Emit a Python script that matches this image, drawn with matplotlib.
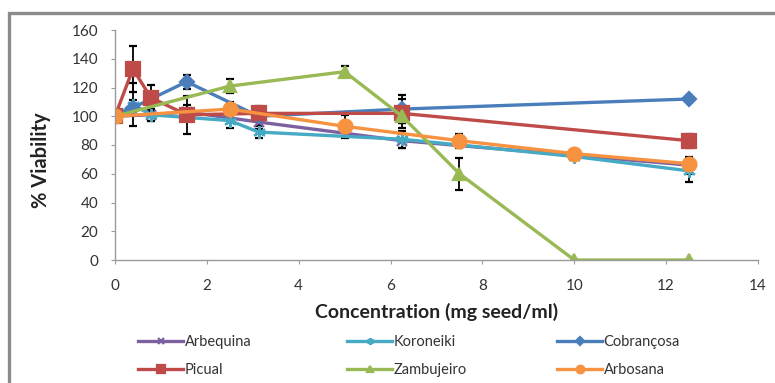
import numpy as np
import matplotlib
matplotlib.use("Agg")
import matplotlib.pyplot as plt
from matplotlib.patches import Rectangle

# viability vs seed extract concentration, one series per cultivar
arbequina_x = [0, 0.78, 1.56, 3.125, 6.25, 12.5]
arbequina_y = [100, 101, 103, 96, 83, 66]
arbequina_err = [3, 4, 5, 5, 5, 6]

koroneiki_x = [0, 0.39, 0.78, 2.5, 3.125, 6.25, 10, 12.5]
koroneiki_y = [100, 108, 101, 97, 89, 84, 72, 62]
koroneiki_err = [2, 15, 4, 5, 4, 6, 2, 8]

cobrancosa_x = [0, 0.39, 1.56, 3.125, 6.25, 12.5]
cobrancosa_y = [100, 106, 124, 100, 105, 112]
cobrancosa_err = [2, 5, 5, 4, 10, 2]

picual_x = [0, 0.39, 0.78, 1.56, 3.125, 6.25, 12.5]
picual_y = [100, 133, 113, 101, 102, 102, 83]
picual_err = [2, 16, 9, 13, 5, 10, 5]

zambujeiro_x = [0, 2.5, 5, 6.25, 7.5, 10, 12.5]
zambujeiro_y = [100, 121, 131, 100, 60, 0, 0]
zambujeiro_err = [2, 5, 4, 5, 11, 0, 0]

arbosana_x = [0, 2.5, 5, 7.5, 10, 12.5]
arbosana_y = [100, 105, 93, 83, 74, 67]
arbosana_err = [2, 5, 8, 5, 2, 4]

plt.rcParams['font.family'] = ['Lato', 'DejaVu Sans']

fig = plt.figure(figsize=(7.75, 3.83), dpi=100)
ax = fig.add_axes([115 / 775, 1 - 260 / 383, 643 / 775, 230 / 383])

series = [
    ("Arbequina", arbequina_x, arbequina_y, arbequina_err, "#7D60A0", "x", 7),
    ("Koroneiki", koroneiki_x, koroneiki_y, koroneiki_err, "#46AAC5", (6, 2, 0), 9),
    ("Cobrançosa", cobrancosa_x, cobrancosa_y, cobrancosa_err, "#4A7EBB", "D", 7),
    ("Picual", picual_x, picual_y, picual_err, "#BE4B48", "s", 10),
    ("Zambujeiro", zambujeiro_x, zambujeiro_y, zambujeiro_err, "#98B954", "^", 9),
    ("Arbosana", arbosana_x, arbosana_y, arbosana_err, "#F69240", "o", 10),
]

handles = {}
for name, xs, ys, err, col, mk, ms in series:
    eb = ax.errorbar(xs, ys, yerr=err, color=col, lw=2.4, marker=mk, ms=ms,
                     mec=col, mfc=col, mew=1.6, ecolor="black", elinewidth=1.3,
                     capsize=3, capthick=1.3, label=name)
    handles[name] = eb.lines[0]

ax.set_xlim(0, 14)
ax.set_ylim(0, 160)
ax.set_xticks(np.arange(0, 15, 2))
ax.set_yticks(np.arange(0, 161, 20))
for side in ("top", "right"):
    ax.spines[side].set_visible(False)
for side in ("left", "bottom"):
    ax.spines[side].set_color("#9a9a9a")
    ax.spines[side].set_linewidth(1.0)
ax.tick_params(direction="out", length=3, color="#9a9a9a", labelsize=11,
               labelcolor="#333333")
ax.tick_params(axis="x", pad=10.5)
ax.tick_params(axis="y", pad=9)

ax.set_xlabel("Concentration (mg seed/ml)", fontsize=14, fontweight="bold", color="#222222")
ax.xaxis.set_label_coords(0.5, -0.226)
ax.xaxis.label.set_va("center")
ax.set_ylabel("% Viability", fontsize=14.5, fontweight="bold", color="#222222")
ax.yaxis.set_label_coords(-0.115, 0.435)
ax.yaxis.label.set_va("center")

# legend laid out as three fixed-width columns
columns = [("Arbequina", "Picual"), ("Koroneiki", "Zambujeiro"), ("Cobrançosa", "Arbosana")]
col_left = [138, 347, 557]
for names, left in zip(columns, col_left):
    leg = fig.legend([handles[n] for n in names], list(names), loc="upper left",
                     bbox_to_anchor=(left / 775, 1 - 335 / 383), frameon=False,
                     fontsize=10.5, handlelength=3.1, handletextpad=0.1,
                     labelspacing=0.95, markerscale=0.55, borderaxespad=0,
                     borderpad=0)
    for t in leg.get_texts():
        t.set_color("#333333")

# outer chart border
fig.patches.append(Rectangle((9 / 775, -0.2), 1.2, 1.2 - 13 / 383,
                             transform=fig.transFigure, fill=False,
                             edgecolor="#8a8a8a", lw=2.4))

fig.savefig("out.png", dpi=100)
